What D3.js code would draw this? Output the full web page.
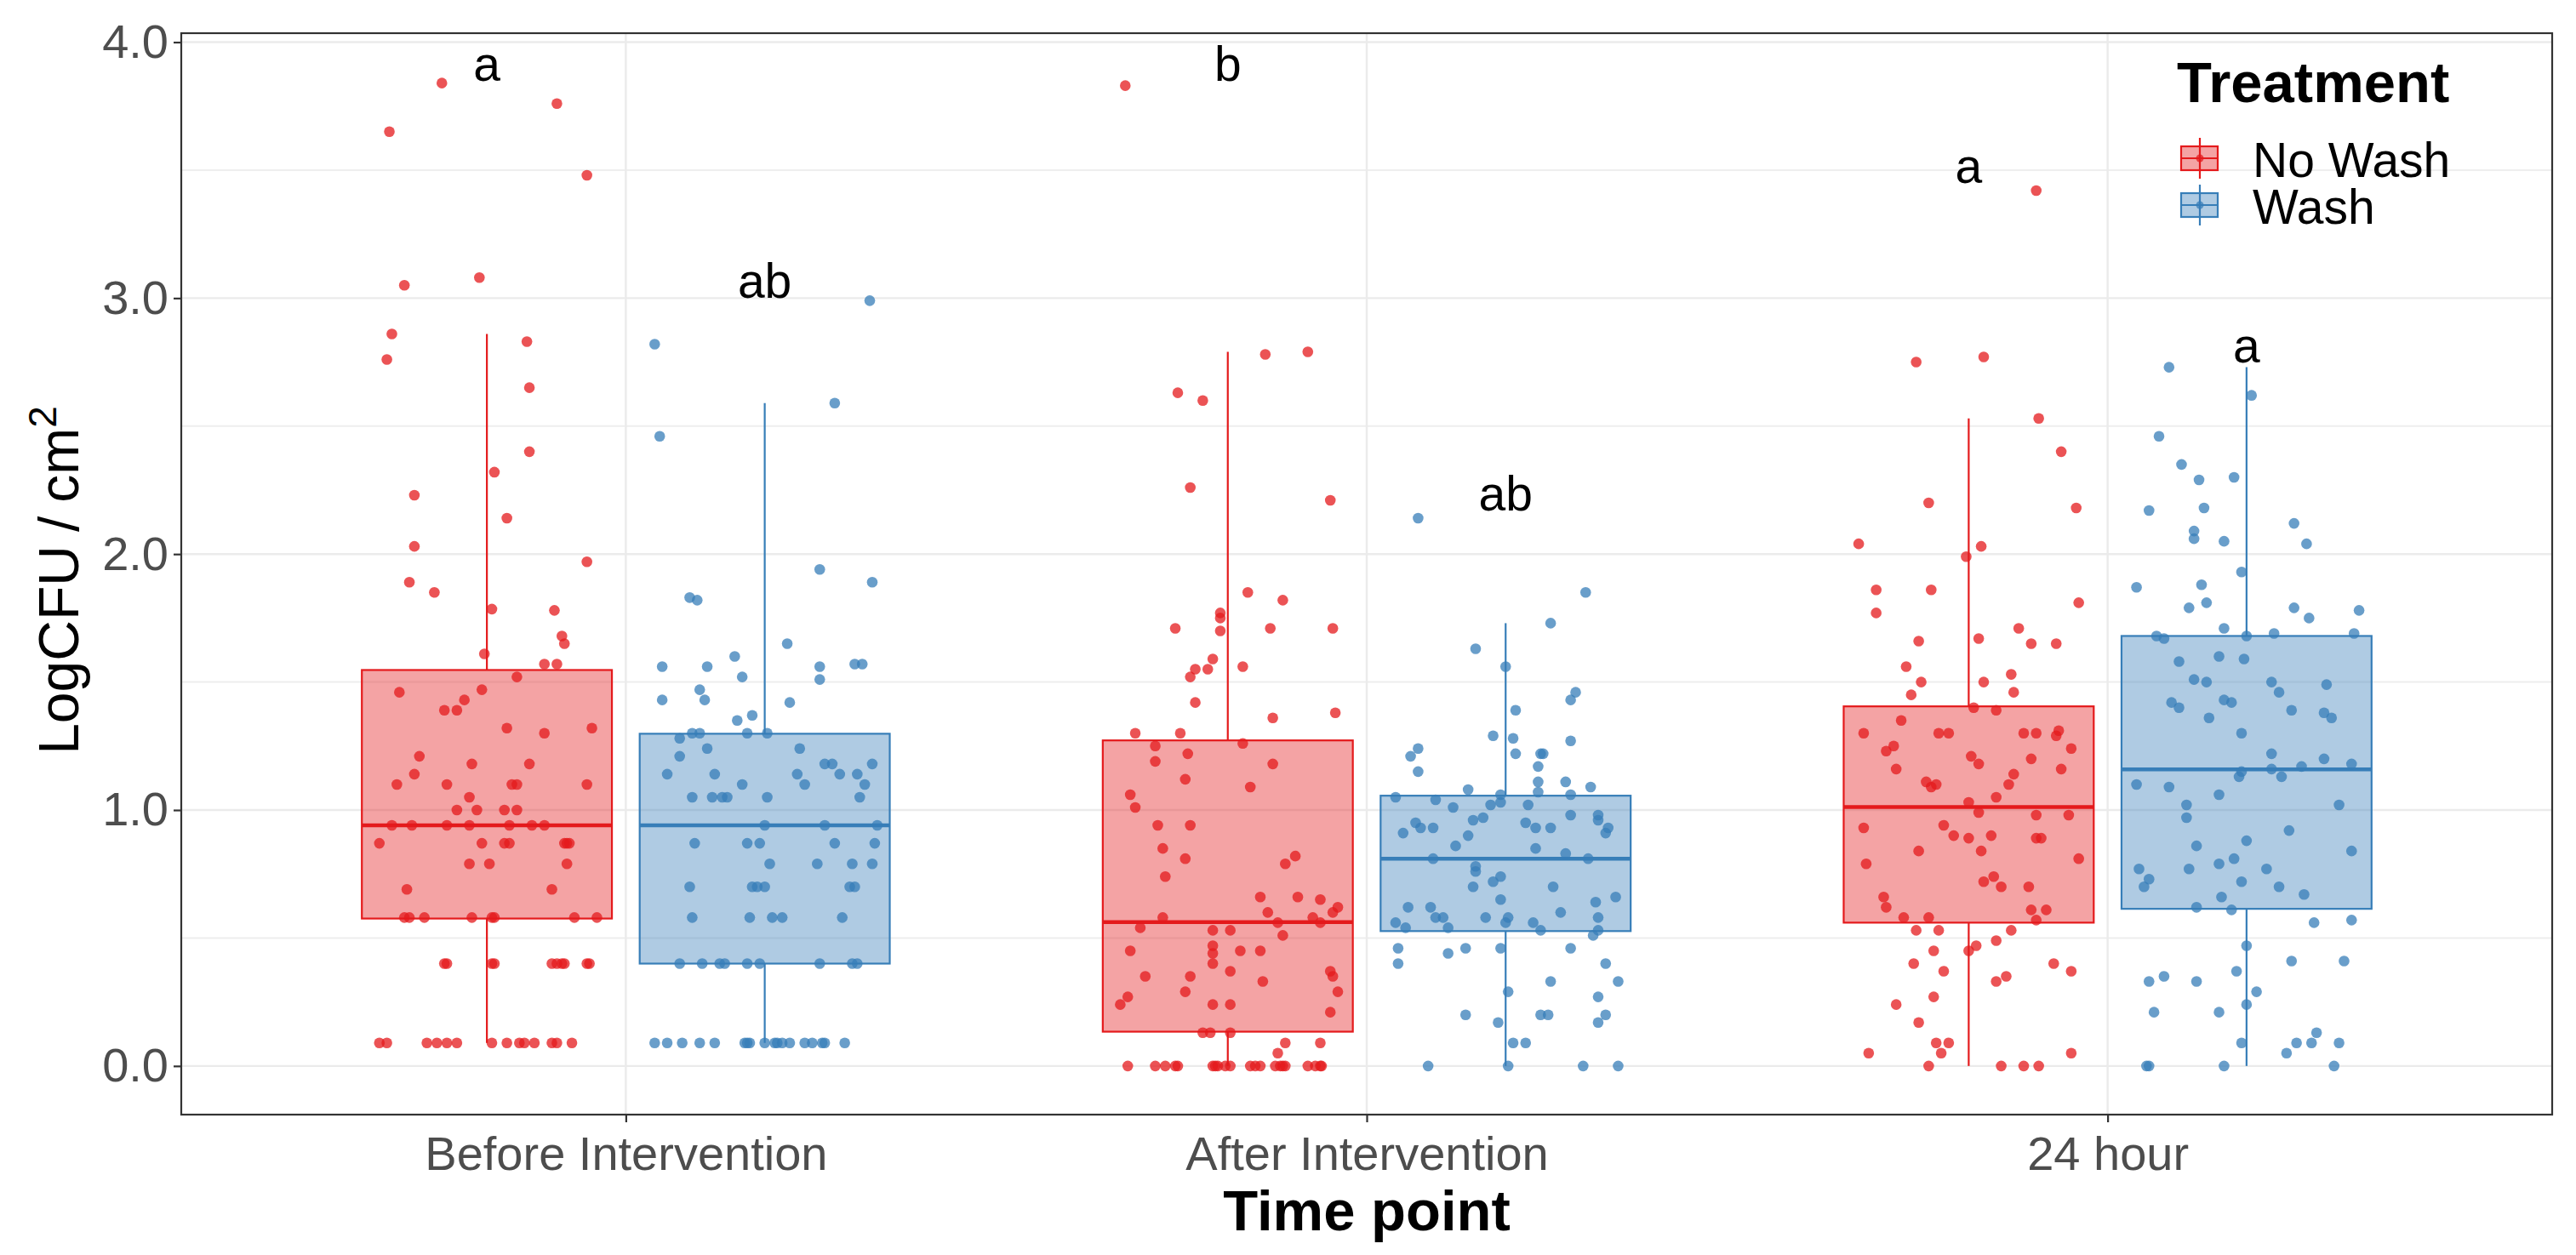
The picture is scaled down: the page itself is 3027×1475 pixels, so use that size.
<!DOCTYPE html>
<html>
<head>
<meta charset="utf-8">
<script src="https://cdn.jsdelivr.net/npm/d3@7"></script>
<style>
  html, body { margin: 0; padding: 0; background: #ffffff; }
  text { font-family: "Liberation Sans", Arial, sans-serif; }
</style>
</head>
<body>
<script>
// ---------------- DATA ----------------
const categories = ["Before Intervention", "After Intervention", "24 hour"];
const treatments = ["No Wash", "Wash"];
const yTicks = [0, 1, 2, 3, 4];
const yMinorTicks = [0.5, 1.5, 2.5, 3.5];

// each point: [LogCFU value, horizontal jitter as fraction of box width]
const beforeNoWash = [
  [3.84,-0.18],[3.76,0.28],[3.65,-0.39],[3.48,0.40],[3.08,-0.03],[3.05,-0.33],[2.86,-0.38],[2.83,0.16],[2.76,-0.40],[2.65,0.17],
  [2.40,0.17],[2.32,0.03],[2.23,-0.29],[2.14,0.08],[2.03,-0.29],[1.97,0.40],[1.89,-0.31],[1.85,-0.21],
  [1.785,0.02],[1.78,0.27],[1.68,0.30],[1.65,0.31],[1.61,-0.01],[1.57,0.23],[1.57,0.28],[1.52,0.12],[1.46,-0.35],[1.47,-0.02],
  [1.43,-0.09],[1.39,-0.17],[1.39,-0.12],[1.32,0.08],[1.30,0.23],[1.32,0.42],[1.21,-0.27],[1.18,-0.06],[1.18,0.17],[1.14,-0.29],
  [1.10,-0.36],[1.10,-0.16],[1.10,0.10],[1.10,0.12],[1.10,0.40],[1.05,-0.07],[1.0,-0.12],[1.0,-0.04],[1.0,0.07],[1.0,0.12],
  [0.94,-0.38],[0.94,-0.30],[0.94,-0.16],[0.94,-0.07],[0.94,0.09],[0.94,0.18],[0.94,0.23],
  [0.87,-0.43],[0.87,-0.02],[0.87,0.07],[0.87,0.09],[0.87,0.31],[0.87,0.32],[0.87,0.33],
  [0.79,-0.07],[0.79,0.01],[0.79,0.32],[0.69,-0.32],[0.69,0.26],
  [0.58,-0.33],[0.58,-0.31],[0.58,-0.25],[0.58,-0.06],[0.58,0.02],[0.58,0.03],[0.58,0.35],[0.58,0.44],
  [0.40,-0.17],[0.40,-0.16],[0.40,0.02],[0.40,0.03],[0.40,0.26],[0.40,0.28],[0.40,0.30],[0.40,0.31],[0.40,0.40],[0.40,0.41],
  [0.09,-0.43],[0.09,-0.40],[0.09,-0.24],[0.09,-0.20],[0.09,-0.16],[0.09,-0.12],[0.09,0.02],[0.09,0.08],[0.09,0.13],[0.09,0.15],
  [0.09,0.19],[0.09,0.26],[0.09,0.28],[0.09,0.34]
];
const beforeWash = [
  [2.99,0.42],[2.82,-0.44],[2.59,0.28],[2.46,-0.42],[1.94,0.22],[1.89,0.43],[1.83,-0.30],[1.82,-0.27],[1.65,0.09],[1.60,-0.12],
  [1.56,-0.41],[1.56,-0.23],[1.52,-0.09],[1.56,0.22],[1.51,0.22],[1.57,0.36],[1.57,0.39],[1.47,-0.26],[1.43,-0.41],[1.43,-0.24],
  [1.42,0.10],[1.35,-0.11],[1.37,-0.05],
  [1.30,-0.29],[1.30,-0.26],[1.30,-0.07],[1.30,0.01],[1.28,-0.34],[1.24,-0.23],[1.24,0.14],[1.21,-0.34],[1.14,-0.39],[1.14,-0.20],
  [1.14,0.13],[1.18,0.24],[1.18,0.27],[1.14,0.30],[1.14,0.37],[1.18,0.43],[1.10,-0.09],[1.10,0.16],[1.10,0.40],
  [1.05,-0.29],[1.05,-0.21],[1.05,-0.17],[1.05,-0.15],[1.05,0.01],[1.05,0.38],
  [0.94,0.0],[0.94,0.24],[0.94,0.45],
  [0.87,-0.28],[0.87,-0.07],[0.87,-0.02],[0.87,0.28],[0.87,0.44],
  [0.79,0.02],[0.79,0.21],[0.79,0.35],[0.79,0.43],
  [0.70,-0.30],[0.70,-0.05],[0.70,-0.03],[0.70,0.0],[0.70,0.34],[0.70,0.36],
  [0.58,-0.29],[0.58,-0.06],[0.58,0.03],[0.58,0.07],[0.58,0.31],
  [0.40,-0.34],[0.40,-0.25],[0.40,-0.18],[0.40,-0.16],[0.40,-0.07],[0.40,-0.02],[0.40,0.22],[0.40,0.35],[0.40,0.37],
  [0.09,-0.44],[0.09,-0.39],[0.09,-0.33],[0.09,-0.26],[0.09,-0.20],[0.09,-0.08],[0.09,-0.07],[0.09,-0.06],[0.09,0.0],[0.09,0.04],
  [0.09,0.05],[0.09,0.07],[0.09,0.10],[0.09,0.16],[0.09,0.19],[0.09,0.23],[0.09,0.24],[0.09,0.32]
];
const afterNoWash = [
  [3.83,-0.41],[2.78,0.15],[2.79,0.32],[2.63,-0.20],[2.60,-0.10],[2.26,-0.15],[2.21,0.41],[1.85,0.08],[1.82,0.22],[1.77,-0.03],
  [1.75,-0.03],[1.71,-0.21],[1.71,0.17],[1.71,0.42],[1.70,-0.03],[1.59,-0.06],[1.55,-0.13],[1.55,-0.08],[1.52,-0.15],[1.56,0.06],
  [1.42,-0.13],[1.36,0.18],[1.38,0.43],
  [1.30,-0.37],[1.30,-0.19],[1.25,-0.29],[1.22,-0.16],[1.26,0.06],[1.19,-0.29],[1.18,0.18],[1.12,-0.17],[1.09,0.09],[1.06,-0.39],
  [1.01,-0.37],[0.94,-0.28],[0.94,-0.15],[0.85,-0.26],[0.81,-0.17],[0.82,0.27],[0.79,0.23],[0.74,-0.25],[0.66,0.13],[0.66,0.28],
  [0.65,0.37],[0.62,0.44],[0.60,0.42],[0.60,0.16],[0.58,-0.26],[0.58,0.34],[0.56,0.37],[0.56,0.20],[0.54,-0.35],[0.51,0.22],
  [0.53,-0.06],[0.53,0.01],[0.47,-0.06],[0.44,-0.06],[0.40,-0.06],[0.45,-0.39],[0.45,0.05],[0.45,0.13],[0.37,0.01],[0.35,-0.33],
  [0.35,-0.15],[0.33,0.14],[0.37,0.41],[0.35,0.42],[0.29,0.44],[0.29,-0.17],[0.27,-0.40],[0.24,-0.43],[0.24,-0.06],[0.24,0.01],
  [0.21,0.41],[0.13,-0.10],[0.13,-0.07],[0.13,0.01],[0.09,0.23],[0.09,0.37],[0.05,0.20],
  [0,-0.40],[0,-0.29],[0,-0.25],[0,-0.21],[0,-0.20],[0,-0.06],[0,-0.05],[0,-0.04],[0,-0.01],[0,0.01],[0,0.09],[0,0.11],
  [0,0.13],[0,0.19],[0,0.21],[0,0.22],[0,0.23],[0,0.32],[0,0.35],[0,0.37],[0,0.375]
];
const afterWash = [
  [2.14,-0.35],[1.85,0.32],[1.73,0.18],[1.63,-0.12],[1.56,0.0],[1.39,0.04],[1.43,0.26],[1.46,0.28],[1.29,-0.05],[1.28,0.03],
  [1.22,0.04],[1.27,0.26],[1.24,-0.35],[1.21,-0.38],[1.15,-0.35],[1.22,0.14],[1.22,0.15],[1.17,0.13],[1.11,0.13],[1.07,0.13],
  [1.11,0.24],[1.09,0.34],[1.08,-0.15],[1.05,-0.44],[1.04,-0.28],[1.06,-0.02],[1.03,-0.02],[1.02,-0.06],[1.06,0.26],[1.01,-0.21],
  [1.02,0.09],
  [0.91,-0.41],[0.95,-0.36],[0.93,-0.34],[0.93,-0.29],[0.96,-0.13],[0.97,-0.09],[0.95,0.08],[0.93,0.12],[0.93,0.18],[0.98,0.26],
  [0.98,0.37],[0.96,0.37],[0.93,0.41],[0.91,0.40],[0.90,-0.15],[0.86,-0.20],[0.85,0.12],[0.83,0.24],
  [0.81,-0.29],[0.81,0.33],[0.78,-0.12],[0.76,-0.12],[0.74,-0.02],[0.72,-0.05],[0.70,-0.13],[0.70,0.19],[0.65,-0.02],[0.66,0.44],
  [0.62,-0.39],[0.62,-0.30],[0.64,0.36],[0.60,0.22],[0.58,-0.28],[0.58,-0.25],[0.54,-0.23],[0.56,-0.44],[0.54,-0.40],[0.58,-0.08],
  [0.56,0.0],[0.58,0.01],[0.56,0.11],[0.58,0.37],[0.53,0.14],[0.51,0.35],[0.53,0.37],
  [0.46,-0.43],[0.40,-0.43],[0.44,-0.23],[0.46,-0.16],[0.46,-0.02],[0.46,0.26],[0.40,0.40],[0.33,0.18],[0.33,0.45],[0.29,0.01],
  [0.27,0.37],[0.20,-0.16],[0.20,0.14],[0.20,0.17],[0.20,0.40],[0.17,0.37],[0.17,-0.03],[0.09,0.03],[0.09,0.08],
  [0,-0.31],[0,0.01],[0,0.31],[0,0.45]
];
const hour24NoWash = [
  [3.42,0.27],[2.75,-0.21],[2.77,0.06],[2.53,0.28],[2.40,0.37],[2.20,-0.16],[2.18,0.43],[2.04,-0.44],[2.03,0.05],[1.99,-0.01],
  [1.86,-0.37],[1.86,-0.15],[1.77,-0.37],[1.81,0.44],[1.71,0.20],[1.66,-0.20],[1.67,0.04],[1.65,0.25],[1.65,0.35],[1.56,-0.25],
  [1.53,0.17],[1.50,-0.19],[1.50,0.06],[1.45,-0.23],[1.46,0.18],[1.40,0.02],[1.39,0.11],[1.35,-0.27],
  [1.30,-0.42],[1.30,-0.12],[1.30,-0.08],[1.30,0.22],[1.30,0.27],[1.31,0.36],[1.29,0.35],[1.25,-0.30],[1.23,-0.33],[1.24,0.41],
  [1.21,0.01],[1.18,0.04],[1.20,0.25],[1.16,-0.29],[1.16,0.37],[1.14,0.18],[1.11,-0.17],[1.09,-0.15],[1.10,-0.13],[1.10,0.16],
  [1.05,0.11],[1.03,0.0],
  [0.99,0.04],[0.98,0.27],[0.98,0.40],[0.93,-0.42],[0.94,-0.10],[0.90,-0.06],[0.89,0.0],[0.90,0.09],[0.89,0.27],[0.89,0.29],
  [0.84,-0.20],[0.84,0.05],[0.79,-0.41],[0.81,0.44],[0.74,0.10],[0.72,0.06],[0.70,0.13],[0.70,0.24],[0.66,-0.34],[0.62,-0.33],
  [0.61,0.25],[0.61,0.31],[0.58,-0.26],[0.58,-0.16],[0.57,0.27],
  [0.53,-0.21],[0.53,-0.12],[0.53,0.17],[0.49,0.11],[0.47,0.03],[0.45,0.0],[0.45,-0.14],[0.40,-0.22],[0.37,-0.10],[0.40,0.34],
  [0.37,0.41],[0.33,0.11],[0.35,0.15],[0.27,-0.14],[0.24,-0.29],[0.17,-0.20],[0.09,-0.13],[0.09,-0.08],[0.05,-0.40],[0.05,-0.11],
  [0.05,0.41],[0,-0.16],[0,0.13],[0,0.22],[0,0.28]
];
const hour24Wash = [
  [2.73,-0.31],[2.62,0.02],[2.46,-0.35],[2.35,-0.26],[2.29,-0.19],[2.30,-0.05],[2.17,-0.39],[2.18,-0.17],[2.09,-0.21],[2.06,-0.21],
  [2.05,-0.09],[2.12,0.19],[2.04,0.24],[1.93,-0.02],[1.87,-0.44],[1.88,-0.18],[1.79,-0.23],[1.81,-0.16],[1.79,0.19],[1.75,0.25],
  [1.78,0.45],[1.71,-0.09],
  [1.68,-0.36],[1.67,-0.33],[1.68,0.0],[1.69,0.11],[1.69,0.43],[1.58,-0.27],[1.60,-0.11],[1.59,-0.01],[1.51,-0.21],[1.50,-0.16],
  [1.50,0.10],[1.46,0.13],[1.49,0.32],[1.42,-0.30],[1.40,-0.27],[1.43,-0.09],[1.42,-0.06],[1.36,-0.15],[1.39,0.18],[1.38,0.31],
  [1.36,0.34],
  [1.30,-0.02],[1.22,0.10],[1.20,0.31],[1.17,0.22],[1.18,0.42],[1.15,-0.02],[1.13,-0.03],[1.16,0.10],[1.13,0.14],[1.10,-0.44],
  [1.09,-0.31],[1.06,-0.11],[1.02,-0.24],[0.97,-0.24],[1.02,0.37],[0.92,0.17],[0.88,0.0],[0.86,-0.20],[0.84,0.42],[0.81,-0.05],
  [0.79,-0.11],[0.77,-0.43],[0.77,-0.23],[0.77,0.08],[0.73,-0.39],[0.70,-0.41],[0.72,-0.02],[0.70,0.13],[0.66,-0.10],[0.67,0.23],
  [0.62,-0.20],[0.61,-0.06],
  [0.56,0.27],[0.57,0.42],[0.47,0.0],[0.41,0.18],[0.41,0.39],[0.33,-0.39],[0.35,-0.33],[0.33,-0.20],[0.37,-0.04],[0.29,0.04],
  [0.24,0.0],[0.21,-0.37],[0.21,-0.11],[0.09,-0.02],[0.13,0.28],[0.09,0.20],[0.09,0.26],[0.09,0.37],[0.05,0.16],
  [0,-0.40],[0,-0.39],[0,-0.09],[0,0.35]
];

// box statistics, order: [Before NW, Before W, After NW, After W, 24h NW, 24h W]
const groupCategory = [0, 0, 1, 1, 2, 2];
const groupTreatment = [0, 1, 0, 1, 0, 1];
const groupPoints = [beforeNoWash, beforeWash, afterNoWash, afterWash, hour24NoWash, hour24Wash];
const lowerWhisker = [0.09, 0.09, 0.0, 0.0, 0.0, 0.0];
const lowerQuartile = [0.576, 0.40, 0.134, 0.527, 0.56, 0.614];
const medians = [0.94, 0.94, 0.562, 0.81, 1.012, 1.159];
const upperQuartile = [1.547, 1.298, 1.272, 1.056, 1.405, 1.68];
const upperWhisker = [2.86, 2.59, 2.79, 1.73, 2.53, 2.73];
const letters = ["a", "ab", "b", "ab", "a", "a"];
const letterY = [3.85, 3.0, 3.85, 2.17, 3.45, 2.75];

// ---------------- CHART ----------------
const W = 3027, H = 1475;
const M = { left: 213, right: 2999, top: 39, bottom: 1310 };
const colors = ["#E41A1C", "#377EB8"];

const svg = d3.select("body").append("svg").attr("width", W).attr("height", H);
svg.append("rect").attr("width", W).attr("height", H).attr("fill", "#ffffff");

const x = d3.scalePoint().domain(categories).range([M.left, M.right]).padding(0.6);
const step = x.step();
const dodge = d3.scaleOrdinal().domain(treatments).range([-0.1875 * step, 0.1875 * step]);
const boxW = 0.3375 * step;
const y = d3.scaleLinear().domain([-0.19, 4.035]).range([M.bottom, M.top]);
const color = d3.scaleOrdinal().domain(treatments).range(colors);

// gridlines
const grid = svg.append("g");
grid.selectAll("line.minor").data(yMinorTicks).join("line")
  .attr("x1", M.left).attr("x2", M.right)
  .attr("y1", d => y(d)).attr("y2", d => y(d))
  .attr("stroke", "#EEEEEE").attr("stroke-width", 2);
grid.selectAll("line.major").data(yTicks).join("line")
  .attr("x1", M.left).attr("x2", M.right)
  .attr("y1", d => y(d)).attr("y2", d => y(d))
  .attr("stroke", "#EBEBEB").attr("stroke-width", 2.4);
grid.selectAll("line.vmajor").data(categories).join("line")
  .attr("x1", d => x(d)).attr("x2", d => x(d))
  .attr("y1", M.top).attr("y2", M.bottom)
  .attr("stroke", "#EBEBEB").attr("stroke-width", 2.4);

// boxes
const groups = groupPoints.map((pts, i) => ({
  cat: categories[groupCategory[i]],
  trt: treatments[groupTreatment[i]],
  lo: lowerWhisker[i], q1: lowerQuartile[i], med: medians[i], q3: upperQuartile[i], hi: upperWhisker[i],
  pts: pts, letter: letters[i], ly: letterY[i]
}));
const cx = g => x(g.cat) + dodge(g.trt);

const boxG = svg.append("g").selectAll("g").data(groups).join("g");
boxG.append("line")
  .attr("x1", cx).attr("x2", cx)
  .attr("y1", g => y(g.q3)).attr("y2", g => y(g.hi))
  .attr("stroke", g => color(g.trt)).attr("stroke-width", 2.2);
boxG.append("line")
  .attr("x1", cx).attr("x2", cx)
  .attr("y1", g => y(g.q1)).attr("y2", g => y(g.lo))
  .attr("stroke", g => color(g.trt)).attr("stroke-width", 2.2);
boxG.append("rect")
  .attr("x", g => cx(g) - boxW / 2).attr("width", boxW)
  .attr("y", g => y(g.q3)).attr("height", g => y(g.q1) - y(g.q3))
  .attr("fill", g => color(g.trt)).attr("fill-opacity", 0.4)
  .attr("stroke", g => color(g.trt)).attr("stroke-width", 2.2);
boxG.append("line")
  .attr("x1", g => cx(g) - boxW / 2).attr("x2", g => cx(g) + boxW / 2)
  .attr("y1", g => y(g.med)).attr("y2", g => y(g.med))
  .attr("stroke", g => color(g.trt)).attr("stroke-width", 4.5);

// jittered points
const ptG = svg.append("g");
groups.forEach(g => {
  ptG.selectAll(null).data(g.pts).join("circle")
    .attr("cx", d => cx(g) + d[1] * boxW)
    .attr("cy", d => y(d[0]))
    .attr("r", 6.3)
    .attr("fill", color(g.trt))
    .attr("fill-opacity", 0.75);
});

// significance letters
svg.append("g").selectAll("text").data(groups).join("text")
  .attr("x", cx).attr("y", g => y(g.ly))
  .attr("text-anchor", "middle")
  .attr("font-size", 57).attr("fill", "#000000")
  .text(g => g.letter);

// panel border
svg.append("rect")
  .attr("x", M.left).attr("y", M.top)
  .attr("width", M.right - M.left).attr("height", M.bottom - M.top)
  .attr("fill", "none").attr("stroke", "#333333").attr("stroke-width", 2.2);

// axes
const yAxis = svg.append("g").attr("transform", `translate(${M.left},0)`)
  .call(d3.axisLeft(y).tickValues(yTicks).tickFormat(d3.format(".1f")).tickSize(9).tickPadding(6));
const xAxis = svg.append("g").attr("transform", `translate(0,${M.bottom})`)
  .call(d3.axisBottom(x).tickSize(9).tickPadding(16));
[yAxis, xAxis].forEach(a => {
  a.select(".domain").remove();
  a.selectAll(".tick line").attr("stroke", "#333333").attr("stroke-width", 2.2);
  a.selectAll(".tick text").attr("fill", "#4D4D4D").attr("font-size", 56)
    .attr("font-family", "'Liberation Sans', Arial, sans-serif");
});

// axis titles
svg.append("text")
  .attr("x", (M.left + M.right) / 2).attr("y", 1446)
  .attr("text-anchor", "middle").attr("font-size", 67).attr("font-weight", "bold")
  .attr("fill", "#000000").text("Time point");

const yt = svg.append("text")
  .attr("transform", `translate(92,682) rotate(-90)`)
  .attr("text-anchor", "middle").attr("font-size", 66).attr("fill", "#000000");
yt.append("tspan").text("LogCFU");
yt.append("tspan").attr("dx", 16).text("/");
yt.append("tspan").attr("dx", 16).text("cm");
yt.append("tspan").attr("dy", -26).attr("font-size", 46).text("2");

// legend
const leg = svg.append("g");
leg.append("text").attr("x", 2558).attr("y", 120)
  .attr("font-size", 67).attr("font-weight", "bold").attr("fill", "#000000").text("Treatment");
const legItems = leg.selectAll("g.item").data(treatments).join("g")
  .attr("transform", (d, i) => `translate(0,${186 + i * 55})`);
legItems.append("line")
  .attr("x1", 2585).attr("x2", 2585).attr("y1", -24).attr("y2", 24)
  .attr("stroke", d => color(d)).attr("stroke-width", 2.2);
legItems.append("rect")
  .attr("x", 2563).attr("y", -14).attr("width", 43).attr("height", 28)
  .attr("fill", d => color(d)).attr("fill-opacity", 0.4)
  .attr("stroke", d => color(d)).attr("stroke-width", 2.2);
legItems.append("line")
  .attr("x1", 2563).attr("x2", 2606).attr("y1", 0).attr("y2", 0)
  .attr("stroke", d => color(d)).attr("stroke-width", 2.2);
legItems.append("circle")
  .attr("cx", 2585).attr("cy", 0).attr("r", 4.5)
  .attr("fill", d => color(d)).attr("fill-opacity", 0.75);
legItems.append("text")
  .attr("x", 2647).attr("y", 22)
  .attr("font-size", 57).attr("fill", "#000000").text(d => d);
</script>
</body>
</html>
